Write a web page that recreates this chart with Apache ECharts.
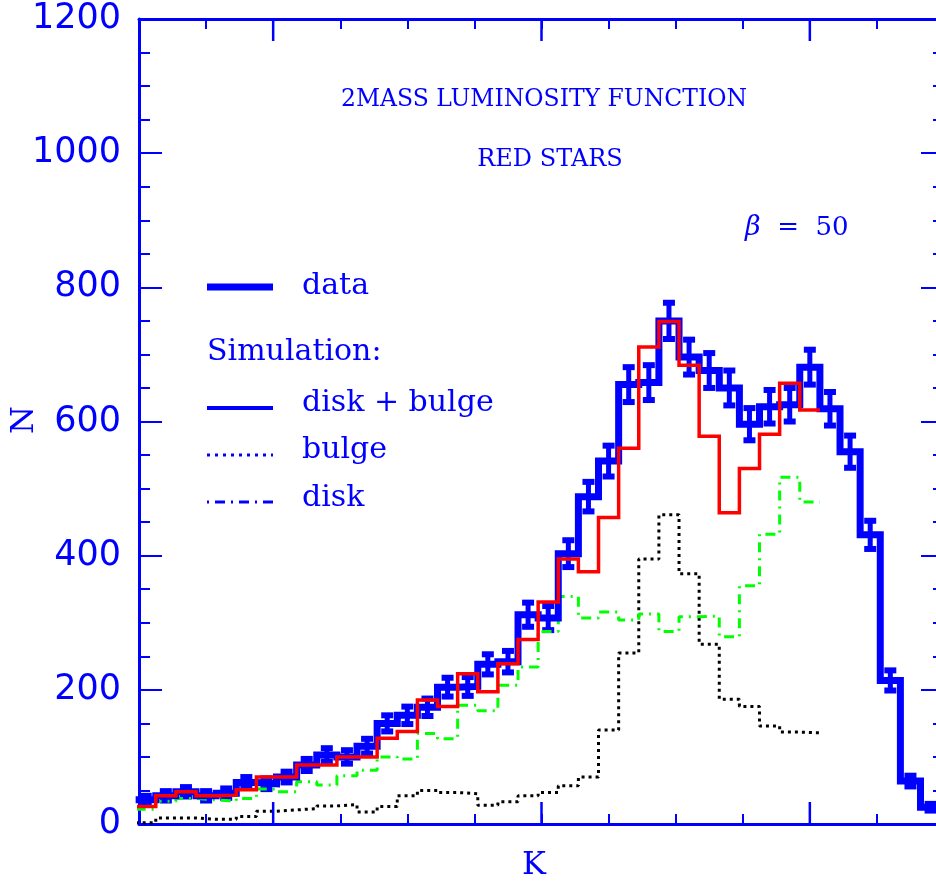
<!DOCTYPE html>
<html>
<head>
<meta charset="utf-8">
<script src="https://cdn.jsdelivr.net/npm/echarts@6/dist/echarts.min.js"></script>
<style>
  html, body { margin: 0; padding: 0; background: #fff; overflow: hidden; }
  #container { width: 950px; height: 886px; }
</style>
</head>
<body>
<div id="container"></div>
<script type="text/javascript">
// K bins, 0.15 mag wide
var binStart = 4.975;
var binWidth = 0.15;

// 2MASS red stars counts per bin (blue histogram) and their error bars
var dataN = [36, 42, 48, 42, 46, 62, 60, 70, 88, 103,
             100, 116, 150, 162, 174, 204, 205, 238, 242, 312,
             307, 403, 488, 541, 655, 658, 750, 696, 676, 650,
             596, 622, 625, 681, 619, 555, 431, 214, 64, 25];
var dataErr = [6, 7, 7, 7, 7, 8, 8, 8, 9, 10,
               10, 11, 12, 13, 13, 14, 14, 15, 16, 18,
               18, 20, 22, 23, 26, 26, 27, 26, 26, 26,
               24, 25, 25, 26, 25, 24, 21, 15, 8, 5];

// simulation: disk + bulge (red), bulge (black dotted), disk (green dash-dot)
var diskBulge = [26, 42, 48, 42, 43, 51, 70, 70, 88, 88,
                 100, 100, 128, 138, 185, 175, 224, 197, 239, 275,
                 331, 395, 376, 457, 560, 711, 749, 684, 578, 464,
                 530, 581, 657, 617];
var bulge = [2, 9, 9, 7, 7, 11, 19, 21, 23, 27,
             29, 18, 26, 42, 50, 47, 45, 28, 33, 42,
             47, 57, 70, 140, 255, 395, 461, 373, 268, 186,
             175, 146, 137, 136];
var disk = [22, 34, 38, 36, 34, 38, 52, 48, 63, 58,
            72, 80, 100, 97, 135, 127, 177, 169, 207, 234,
            287, 339, 307, 316, 304, 313, 287, 309, 310, 279,
            355, 432, 517, 480];

var yTicks = [0, 200, 400, 600, 800, 1000, 1200];
var xMajorTicks = [6, 8, 10];

var blue = '#0000ff';

function stepPoints(vals) {
    var pts = [];
    for (var i = 0; i < vals.length; i++) {
        pts.push([binStart + i * binWidth, vals[i]]);
    }
    pts.push([binStart + vals.length * binWidth, vals[vals.length - 1]]);
    return pts;
}

var errPoints = [];
for (var i = 0; i < dataN.length; i++) {
    errPoints.push([binStart + (i + 0.5) * binWidth, dataN[i], dataErr[i]]);
}

var dom = document.getElementById('container');
var myChart = echarts.init(dom, null, { renderer: 'canvas' });

var axisColor = { color: blue, width: 3 };
var tickColor = { color: blue, width: 2 };

function xAxisDef(pos) {
    return {
        type: 'value', position: pos, min: 5, max: 11, interval: 0.5,
        axisLine: { show: true, onZero: false, lineStyle: axisColor },
        axisTick: { inside: true, length: 10, lineStyle: tickColor },
        axisLabel: { show: false }, splitLine: { show: false }
    };
}

function yAxisDef(pos, labels) {
    return {
        type: 'value', position: pos, min: 0, max: 1200, interval: 200,
        axisLine: { show: true, onZero: false, lineStyle: axisColor },
        axisTick: { show: true, inside: true, length: 23, lineStyle: tickColor },
        minorTick: { show: true, splitNumber: 4, length: 11, lineStyle: tickColor },
        axisLabel: labels ? {
            margin: 18, color: blue, fontFamily: 'DejaVu Sans', fontSize: 35,
            customValues: yTicks,
            formatter: function (v) { return String(v); }
        } : { show: false },
        splitLine: { show: false }
    };
}

var texts = [
    { type: 'text', x: 544, y: 100, style: { text: '2MASS LUMINOSITY FUNCTION', font: '23.5px "DejaVu Serif"', fill: blue, align: 'center', verticalAlign: 'middle' } },
    { type: 'text', x: 550, y: 160, style: { text: 'RED STARS', font: '24px "DejaVu Serif"', fill: blue, align: 'center', verticalAlign: 'middle' } },
    { type: 'text', x: 745, y: 228, style: { text: '{b|β}  =  50', font: '26px "DejaVu Serif"', fill: blue, align: 'left', verticalAlign: 'middle',
        rich: { b: { fontStyle: 'italic', font: 'italic 27px "DejaVu Serif"', fill: blue } } } },

    { type: 'line', shape: { x1: 207, y1: 287, x2: 273, y2: 287 }, style: { stroke: blue, lineWidth: 7 } },
    { type: 'text', x: 302, y: 286, style: { text: 'data', font: '30px "DejaVu Serif"', fill: blue, align: 'left', verticalAlign: 'middle' } },
    { type: 'text', x: 207, y: 352, style: { text: 'Simulation:', font: '30px "DejaVu Serif"', fill: blue, align: 'left', verticalAlign: 'middle' } },
    { type: 'line', shape: { x1: 207, y1: 408, x2: 273, y2: 408 }, style: { stroke: blue, lineWidth: 4 } },
    { type: 'text', x: 302, y: 403, style: { text: 'disk + bulge', font: '30px "DejaVu Serif"', fill: blue, align: 'left', verticalAlign: 'middle' } },
    { type: 'line', shape: { x1: 207, y1: 455, x2: 273, y2: 455 }, style: { stroke: blue, lineWidth: 3, lineDash: [3, 5] } },
    { type: 'text', x: 302, y: 450, style: { text: 'bulge', font: '30px "DejaVu Serif"', fill: blue, align: 'left', verticalAlign: 'middle' } },
    { type: 'line', shape: { x1: 207, y1: 502, x2: 273, y2: 502 }, style: { stroke: blue, lineWidth: 3, lineDash: [2, 6, 10, 6] } },
    { type: 'text', x: 302, y: 498, style: { text: 'disk', font: '30px "DejaVu Serif"', fill: blue, align: 'left', verticalAlign: 'middle' } },

    { type: 'text', x: 534, y: 866, style: { text: 'K', font: '32px "DejaVu Serif"', fill: blue, align: 'center', verticalAlign: 'middle' } },
    { type: 'text', x: 25, y: 420, rotation: Math.PI / 2, style: { text: 'N', font: '32px "DejaVu Serif"', fill: blue, align: 'center', verticalAlign: 'middle' } }
];

var option = {
    animation: false,
    backgroundColor: '#fff',
    // right frame lies just outside the 936px picture
    grid: { left: 139, top: 19, width: 805, height: 805, outerBoundsMode: 'none' },
    xAxis: [xAxisDef('bottom'), xAxisDef('top')],
    yAxis: [yAxisDef('left', true), yAxisDef('right', false)],
    graphic: texts,
    series: [
        {
            name: 'bulge', type: 'line', step: 'end', symbol: 'none',
            data: stepPoints(bulge),
            lineStyle: { color: '#000', width: 3, type: [3, 4] }
        },
        {
            name: 'disk', type: 'line', step: 'end', symbol: 'none',
            data: stepPoints(disk),
            lineStyle: { color: '#00ff00', width: 3, type: [10, 6, 2, 6] }
        },
        {
            name: 'data', type: 'line', step: 'end', symbol: 'none',
            data: stepPoints(dataN),
            lineStyle: { color: blue, width: 7, join: 'miter' }
        },
        {
            name: 'errors', type: 'custom',
            data: errPoints,
            renderItem: function (params, api) {
                var x = api.value(0), v = api.value(1), e = api.value(2);
                var top = api.coord([x, v + e]);
                var bot = api.coord([x, v - e]);
                return {
                    type: 'group',
                    children: [
                        { type: 'rect', shape: { x: top[0] - 2.5, y: top[1], width: 5, height: bot[1] - top[1] }, style: { fill: blue } },
                        { type: 'rect', shape: { x: top[0] - 6, y: top[1] - 3, width: 12, height: 6 }, style: { fill: blue } },
                        { type: 'rect', shape: { x: bot[0] - 6, y: bot[1] - 3, width: 12, height: 6 }, style: { fill: blue } }
                    ]
                };
            },
            clip: true
        },
        {
            name: 'disk + bulge', type: 'line', step: 'end', symbol: 'none',
            data: stepPoints(diskBulge),
            lineStyle: { color: '#ff0000', width: 3.5, join: 'miter' }
        }
    ]
};

myChart.setOption(option);

// long ticks on the K axes (bottom and top), placed through the axis scale
var majorTicks = [];
xMajorTicks.forEach(function (v) {
    var b = myChart.convertToPixel({ gridIndex: 0 }, [v, 0]);
    var t = myChart.convertToPixel({ gridIndex: 0 }, [v, 1200]);
    majorTicks.push({ type: 'rect', z: 100, shape: { x: b[0] - 1.25, y: b[1] - 22, width: 2.5, height: 22 }, style: { fill: blue } });
    majorTicks.push({ type: 'rect', z: 100, shape: { x: t[0] - 1.25, y: t[1], width: 2.5, height: 22 }, style: { fill: blue } });
});
myChart.setOption({ graphic: texts.concat(majorTicks) });
</script>
</body>
</html>
